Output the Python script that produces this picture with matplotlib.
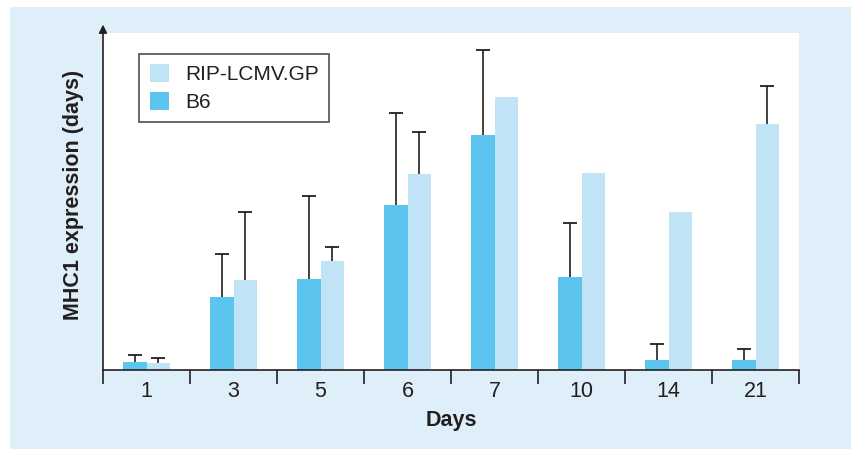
import matplotlib.pyplot as plt
import numpy as np
from matplotlib.patches import Rectangle

plt.rcParams['font.family'] = ['Liberation Sans', 'DejaVu Sans']

# values (arbitrary units)
days = ["1", "3", "5", "6", "7", "10", "14", "21"]
b6 = [0.8, 7.3, 9.1, 16.5, 23.5, 9.3, 1.0, 1.0]
b6_err = [0.7, 4.3, 8.3, 9.2, 8.5, 5.4, 1.6, 1.1]
rip = [0.7, 9.0, 10.9, 19.6, 27.3, 19.7, 15.8, 24.6]
rip_err = [0.5, 6.8, 1.4, 4.2, 0.0, 0.0, 0.0, 3.8]

DARK = "#5bc5f0"
LIGHT = "#c0e4f5"
PANEL = "#deeff9"
INK = "#231f20"
FS = 15.5

fig = plt.figure(figsize=(8.51, 4.49), dpi=100)
fig.patch.set_facecolor("white")
fig.add_artist(Rectangle((10 / 851, 0), 1, 1 - 7 / 449, transform=fig.transFigure,
                         facecolor=PANEL, edgecolor="none", zorder=-10))

ax = fig.add_axes([103 / 851, (449 - 370) / 449, 696 / 851, 337 / 449])
ax.set_facecolor("white")

x = np.arange(len(days))
w = 0.27


def upper_errors(xpos, vals, errs):
    # only the upward whisker with a cap, skipped where there is no error
    for xi, v, e in zip(xpos, vals, errs):
        if e <= 0:
            continue
        ax.vlines(xi, v, v + e, color=INK, lw=1.2, zorder=3)
        ax.plot([xi], [v + e], marker="_", markersize=10, mew=1.3, color=INK, zorder=3)


ax.bar(x - w / 2, b6, w, color=DARK, label="B6", zorder=2)
ax.bar(x + w / 2, rip, w, color=LIGHT, label="RIP-LCMV.GP", zorder=2)
upper_errors(x - w / 2, b6, b6_err)
upper_errors(x + w / 2, rip, rip_err)

ax.set_xlim(-0.5, len(days) - 0.5)
ax.set_ylim(0, 33.7)

for s in ["top", "right", "left"]:
    ax.spines[s].set_visible(False)
ax.spines["bottom"].set_color(INK)
ax.spines["bottom"].set_linewidth(1.2)

# y axis line with arrow head
ax.annotate("", xy=(0, 1.025), xytext=(0, 0), xycoords="axes fraction",
            arrowprops=dict(arrowstyle="-|>", color=INK, lw=1.2,
                            mutation_scale=12, shrinkA=0, shrinkB=0))
ax.set_yticks([])

# tick marks between groups, labels at centres
ax.set_xticks(np.arange(-0.5, len(days)), labels=[])
ax.set_xticks(x, labels=days, minor=True)
ax.tick_params(axis="x", which="major", length=10, width=1.2, color=INK, direction="out")
ax.tick_params(axis="x", which="minor", length=0, labelsize=FS, pad=8, labelcolor=INK)

ax.set_xlabel("Days", fontsize=FS, fontweight="bold", color=INK, labelpad=6)
ax.set_ylabel("MHC1 expression (days)", fontsize=FS, fontweight="bold", color=INK)
ax.yaxis.set_label_coords(-0.028, 0.52)

handles, labels = ax.get_legend_handles_labels()
leg = ax.legend(handles[::-1], labels[::-1], loc="upper left", bbox_to_anchor=(0.052, 0.938),
                fontsize=15, frameon=True, fancybox=False, handlelength=0.95, handleheight=0.95,
                handletextpad=0.75, borderpad=0.5, labelspacing=0.35, labelcolor=INK,
                borderaxespad=0)
leg.get_frame().set_edgecolor(INK)
leg.get_frame().set_linewidth(1.2)

fig.savefig("out.png", dpi=100)
